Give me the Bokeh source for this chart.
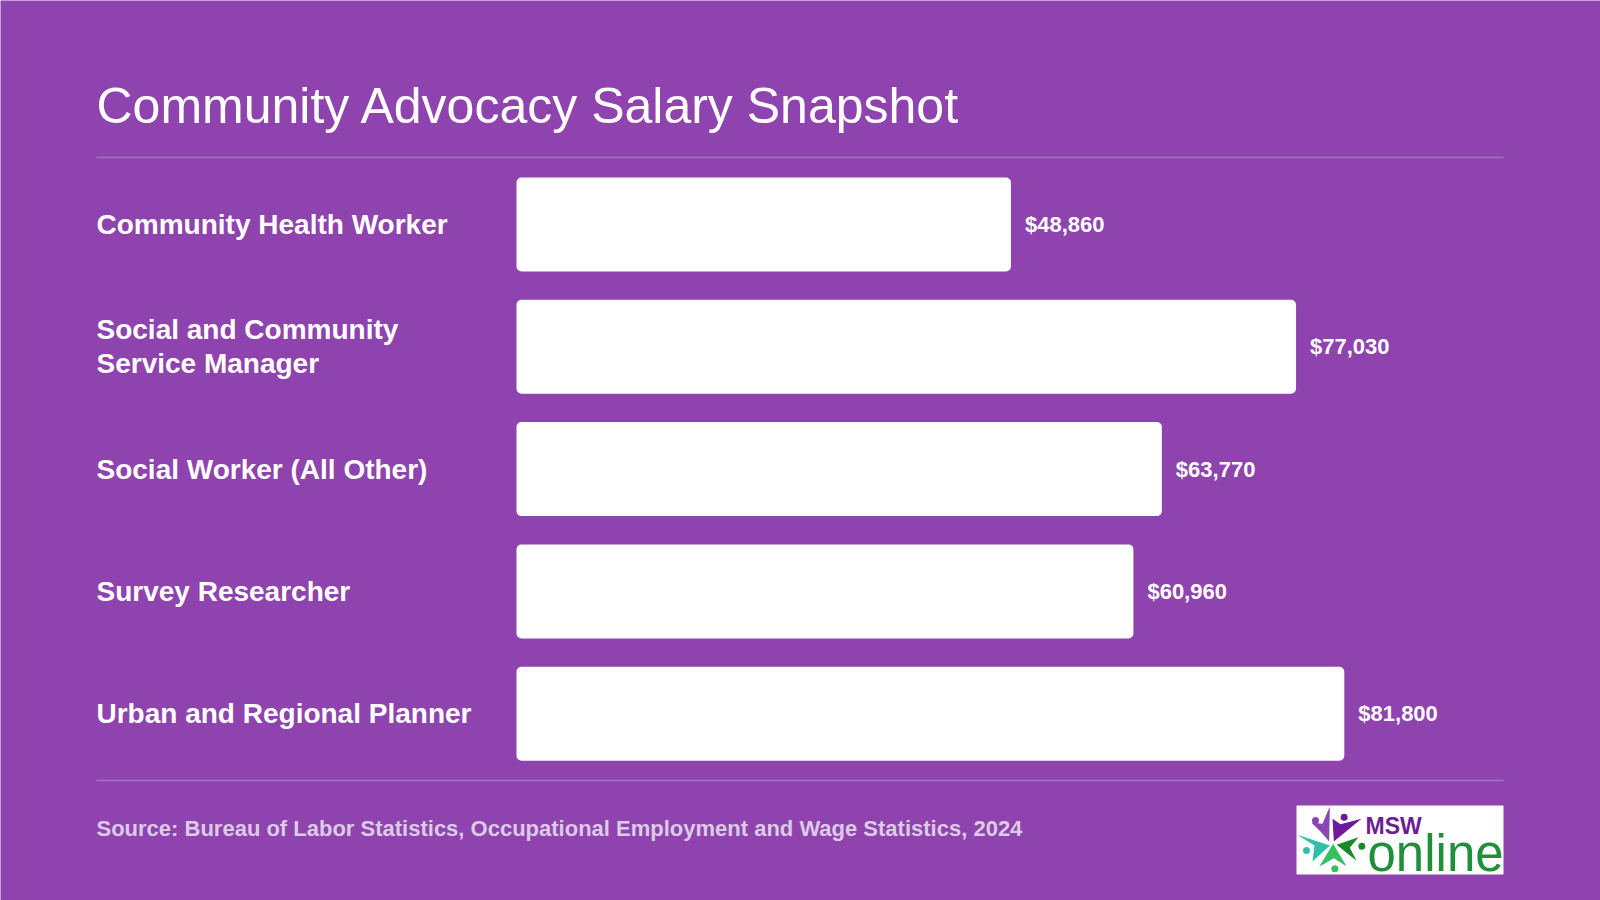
from bokeh.plotting import figure
from bokeh.models import Range1d, Label, ColumnDataSource
from bokeh.core.properties import value
from bokeh.embed import file_html
from bokeh.resources import INLINE

# ---------------- data ----------------
categories = [
    "Community Health Worker",
    "Social and Community\nService Manager",
    "Social Worker (All Other)",
    "Survey Researcher",
    "Urban and Regional Planner",
]
salaries = [48860, 77030, 63770, 60960, 81800]
salary_labels = ["$48,860", "$77,030", "$63,770", "$60,960", "$81,800"]
title_text = "Community Advocacy Salary Snapshot"
source_text = "Source: Bureau of Labor Statistics, Occupational Employment and Wage Statistics, 2024"

# ---------------- layout constants ----------------
W, H = 1600, 900
BG = "#8f43ae"
RULE = "#a772c2"
FONT = "Liberation Sans"

px_per_dollar = 0.01012
x0_px = 516
pitch = 122.3
first_center = 224
bar_h_px = 94

x_range = Range1d(-x0_px / px_per_dollar, (W - x0_px) / px_per_dollar)
y_range = Range1d(-(H - first_center) / pitch, first_center / pitch)

p = figure(width=W, height=H, output_backend="svg", toolbar_location=None,
           x_range=x_range, y_range=y_range, min_border=0,
           x_axis_location=None, y_axis_location=None, title=None,
           background_fill_color=BG, border_fill_color=BG,
           outline_line_color=None)
p.grid.visible = False
p.extra_x_ranges = {"px": Range1d(0, W)}
p.extra_y_ranges = {"py": Range1d(H, 0)}

ypos = [-i for i in range(len(categories))]
src = ColumnDataSource(dict(cat=categories, val=salaries, lab=salary_labels, y=ypos,
                            zero=[0] * len(categories)))

p.hbar(y="y", left=0, right="val", height=bar_h_px / pitch, source=src,
       fill_color="white", line_color=None, border_radius=5)

p.text(x="val", y="y", text="lab", source=src, x_offset=14,
       text_font=value(FONT), text_font_style="bold", text_font_size="22px",
       text_color="white", text_baseline="middle", text_align="left")

p.text(x="zero", y="y", text="cat", source=src, x_offset=96 - x0_px,
       text_font=value(FONT), text_font_style="bold", text_font_size="28px",
       text_color="white", text_baseline="middle", text_align="left",
       text_line_height=1.1)

# title and source
p.add_layout(Label(x=96, y=105, text=title_text, x_range_name="px", y_range_name="py",
                   text_font=FONT, text_font_size="50px", text_color="white",
                   text_baseline="middle"))
p.add_layout(Label(x=96, y=828, text=source_text, x_range_name="px", y_range_name="py",
                   text_font=FONT, text_font_size="22px", text_font_style="bold",
                   text_color="#dccbe6", text_baseline="middle"))

# rules
p.segment(x0=[96, 96], y0=[157, 780], x1=[1503, 1503], y1=[157, 780],
          line_color=RULE, line_width=1.5, x_range_name="px", y_range_name="py")

# logo
p.quad(left=[1296], right=[1503], top=[805], bottom=[874], fill_color="white",
       line_color=None, x_range_name="px", y_range_name="py")

def z(pt):
    return (1296 + pt[0] / 3.0, 805 + pt[1] / 3.0)

arms = [
    ([(100, 3), (98, 108), (72, 78), (45, 52), (78, 55)], "#8b45b5"),
    ([(108, 40), (132, 56), (195, 40), (112, 108)], "#6b1a9a"),
    ([(2, 88), (100, 120), (48, 168), (54, 120)], "#2ec0a8"),
    ([(110, 115), (150, 182), (112, 158), (68, 184)], "#36c060"),
    ([(120, 118), (186, 95), (160, 127), (180, 166)], "#1c8a2a"),
]
dots = [((57, 45), "#8b45b5"), ((143, 35), "#6b1a9a"), ((30, 135), "#2ec0a8"),
        ((115, 190), "#36c060"), ((196, 122), "#1c8a2a")]
for pts, col in arms:
    zz = [z(q) for q in pts]
    p.patch([q[0] for q in zz], [q[1] for q in zz], fill_color=col, line_color=None,
            x_range_name="px", y_range_name="py")
for pt, col in dots:
    c = z(pt)
    p.scatter([c[0]], [c[1]], size=7, fill_color=col, line_color=None,
              x_range_name="px", y_range_name="py")

p.add_layout(Label(x=1365, y=825, text="MSW", x_range_name="px", y_range_name="py",
                   text_font=FONT, text_font_size="23px", text_font_style="bold",
                   text_color="#6c1e96", text_baseline="middle"))
p.add_layout(Label(x=1367, y=853, text="online", x_range_name="px", y_range_name="py",
                   text_font=FONT, text_font_size="51px",
                   text_color="#1f8f3a", text_baseline="middle"))

open("out.html", "w").write(file_html(p, INLINE))
